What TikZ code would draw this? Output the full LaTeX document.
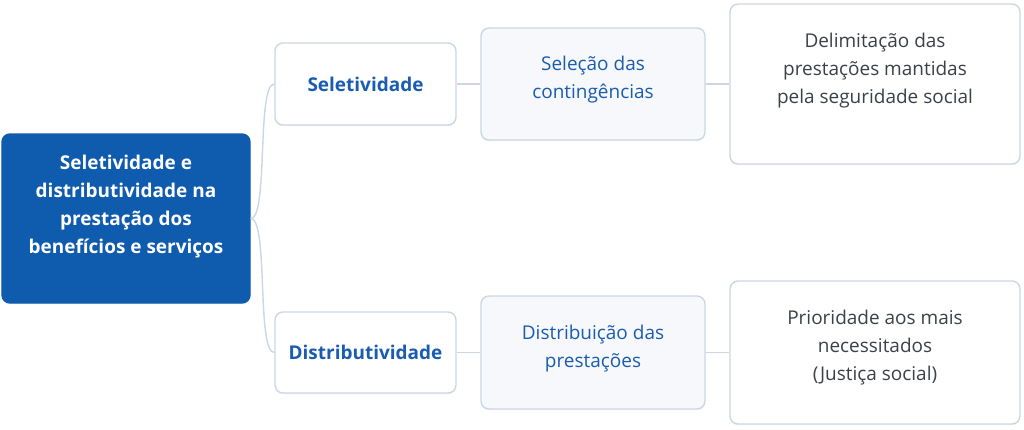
\documentclass[tikz,border=0pt]{standalone}
\usepackage{fontspec}
\setmainfont{Open Sans}
\usetikzlibrary{shadows}

\definecolor{rootblue}{HTML}{0F5BAE}
\definecolor{labelblue}{HTML}{1A5CB0}
\definecolor{edgegray}{HTML}{CDD6E2}
\definecolor{paleFill}{HTML}{F6F8FB}
\definecolor{bodytext}{HTML}{3C4048}

\begin{document}
\begin{tikzpicture}[
    font=\fontsize{13.5}{20}\selectfont,
    box/.style={rectangle, rounded corners=0.2cm, draw=edgegray, line width=1pt, align=center,
      drop shadow={shadow xshift=0pt, shadow yshift=-1pt, opacity=0.08}},
    rootbox/.style={box, draw=rootblue, fill=rootblue, text=white, font=\fontsize{13.5}{20}\selectfont\bfseries},
    topicbox/.style={box, fill=white, text=labelblue, font=\fontsize{13.5}{20}\selectfont\bfseries},
    subbox/.style={box, fill=paleFill, text=labelblue},
    notebox/.style={box, fill=white, text=bodytext},
    link/.style={draw=edgegray, line width=1pt}
  ]
  \useasboundingbox (0, 0) rectangle (25.6, -10.725);

  \node (root) [rootbox, minimum width=6.2cm, minimum height=4.225cm, text depth=0.7cm] at (3.15, -5.4625)
    {Seletividade e\\distributividade na\\prestação dos\\benefícios e serviços};

  \node (sel) [topicbox, minimum width=4.525cm, minimum height=2.05cm] at (9.1375, -2.1) {Seletividade};
  \node (selc) [subbox, minimum width=5.6cm, minimum height=2.8cm, text depth=0.33cm] at (14.825, -2.1)
    {Seleção das\\contingências};
  \node (delim) [notebox, minimum width=7.25cm, minimum height=4cm, text depth=0.8cm] at (21.875, -2.1)
    {Delimitação das\\prestações mantidas\\pela seguridade social};

  \node (dist) [topicbox, minimum width=4.525cm, minimum height=2.025cm] at (9.1375, -8.8125) {Distributividade};
  \node (distp) [subbox, minimum width=5.6cm, minimum height=2.825cm, text depth=0.33cm] at (14.825, -8.8125)
    {Distribuição das\\prestações};
  \node (prio) [notebox, minimum width=7.25cm, minimum height=3.575cm, text depth=0.38cm] at (21.875, -8.8125)
    {Prioridade aos mais\\necessitados\\(Justiça social)};

  % branches out of the root
  \draw[link] (root.east) .. controls +(0.45, 0) and +(-0.45, 0) .. (sel.west);
  \draw[link] (root.east) .. controls +(0.45, 0) and +(-0.45, 0) .. (dist.west);

  \draw[link] (sel) -- (selc);
  \draw[link] (selc) -- (delim);
  \draw[link] (dist) -- (distp);
  \draw[link] (distp) -- (prio);
\end{tikzpicture}
\end{document}
